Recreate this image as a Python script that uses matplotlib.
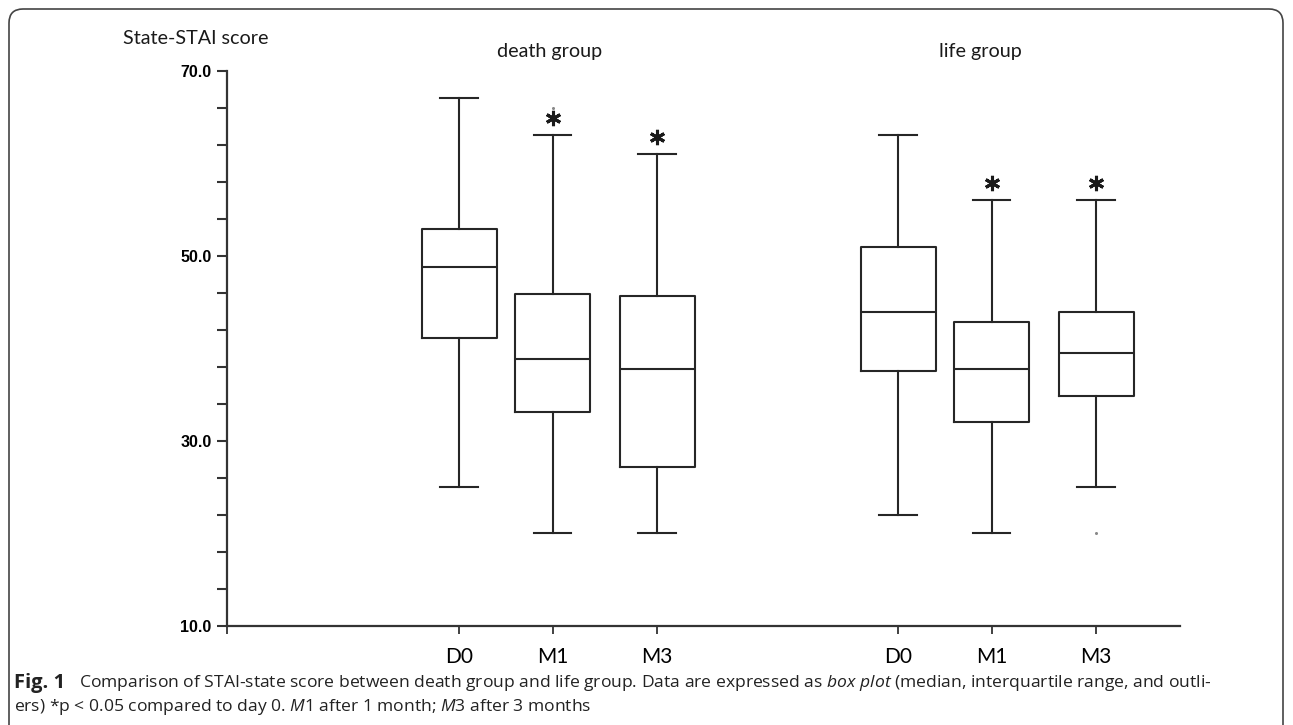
import numpy as np
import matplotlib
matplotlib.use("Agg")
import matplotlib.pyplot as plt
from matplotlib.patches import FancyBboxPatch
from matplotlib.ticker import FixedLocator
from matplotlib.transforms import IdentityTransform, offset_copy, blended_transform_factory

# ---------------- data ----------------
groups = ["death group", "life group"]
timepoints = ["D0", "M1", "M3"]
whisker_low = [25.0, 20.0, 20.0, 22.0, 20.0, 25.0]
q1 = [41.1, 33.1, 27.2, 37.6, 32.0, 34.9]
median = [48.8, 38.8, 37.8, 43.9, 37.8, 39.5]
q3 = [52.9, 45.9, 45.7, 51.0, 42.9, 43.9]
whisker_high = [67.0, 63.0, 61.0, 63.0, 56.0, 56.0]
outliers = [[], [66.0], [], [], [], [20.0]]
significant = [False, True, True, False, True, True]

plt.rcParams['mathtext.fontset'] = 'custom'
plt.rcParams['mathtext.rm'] = 'Open Sans'
plt.rcParams['mathtext.it'] = 'Open Sans:italic'
plt.rcParams['mathtext.bf'] = 'Open Sans:bold'

W, H = 1293, 725
fig = plt.figure(figsize=(W / 100, H / 100), dpi=100)
ax = fig.add_axes([227 / W, 1 - 626 / H, (1180 - 227) / W, (626 - 70.7) / H])

# layout of the boxes along x
group_start = [2.32, 6.71]
step = [0.0, 0.935, 1.98]
positions = [g + s for g in group_start for s in step]

stats = []
for i in range(len(positions)):
    stats.append(dict(whislo=whisker_low[i], q1=q1[i], med=median[i], q3=q3[i],
                      whishi=whisker_high[i], fliers=outliers[i]))

line_kw = dict(color='#262626', linewidth=1.5)
ax.bxp(stats, positions=positions, widths=0.75, showfliers=True,
       boxprops=line_kw, medianprops=line_kw, whiskerprops=line_kw, capprops=line_kw,
       flierprops=dict(marker='o', markersize=2.2, markerfacecolor='#888888',
                       markeredgecolor='none'))

# significance asterisks above the upper whiskers
star_tr = offset_copy(ax.transData, fig=fig, y=17, units='dots')
sig_x = [p for p, s in zip(positions, significant) if s]
sig_y = [h for h, s in zip(whisker_high, significant) if s]
ax.plot(sig_x, sig_y, linestyle='none', marker=(6, 2, 0), markersize=11,
        markeredgewidth=2.2, color='#1a1a1a', transform=star_tr, clip_on=False)

ax.set_xlim(0, 9.53)
ax.set_ylim(10, 70)
for side in ['top', 'right']:
    ax.spines[side].set_visible(False)
for side in ['left', 'bottom']:
    ax.spines[side].set_linewidth(1.6)
    ax.spines[side].set_color('#333333')

ax.yaxis.set_major_locator(FixedLocator([10, 30, 50, 70]))
ax.yaxis.set_minor_locator(FixedLocator(np.arange(10, 71, 4)))
ax.set_yticklabels(['%.1f' % v for v in [10, 30, 50, 70]],
                   fontfamily='Liberation Sans', fontweight='bold', fontsize=11.5)
ax.tick_params(axis='y', which='both', direction='out', length=7, width=1.5,
               color='#333333', pad=4)

ax.set_xticks([0] + positions)
ax.set_xticklabels([''] + timepoints * len(groups), fontfamily='Lato', fontsize=15)
ax.tick_params(axis='x', direction='out', length=6, width=1.3, color='#333333', pad=9)

# group titles
tr = blended_transform_factory(ax.transData, ax.transAxes)
title_x = [3.23, 7.53]
for gx, name in zip(title_x, groups):
    ax.text(gx, 1.034, name, transform=tr, ha='center', va='center',
            fontfamily='Lato', fontsize=14.2, color='#1a1a1a')

fig.text(123 / W, 1 - 38 / H, 'State-STAI score', ha='left', va='center',
         fontfamily='Lato', fontsize=14.2, color='#1a1a1a')

# caption
fig.text(14 / W, 1 - 683 / H, 'Fig. 1', ha='left', va='center', fontfamily='Open Sans',
         fontweight='bold', fontsize=14.5, color='#222222')
cap1 = (r'Comparison of STAI-state score between death group and life group. '
        r'Data are expressed as $\it{box\ plot}$ (median, interquartile range, and outli-')
cap2 = (r'ers) *p < 0.05 compared to day 0. $\it{M1}$ after 1 month; $\it{M3}$ after 3 months')
fig.text(79 / W, 1 - 683 / H, cap1, ha='left', va='center', fontfamily='Open Sans',
         fontsize=12.6, color='#222222')
fig.text(14 / W, 1 - 707 / H, cap2, ha='left', va='center', fontfamily='Open Sans',
         fontsize=12.6, color='#222222')

# rounded frame around the panel
frame = FancyBboxPatch((9, -40), W - 9 - 10, H - 9 + 40, boxstyle='round,pad=0,rounding_size=14',
                       transform=IdentityTransform(), facecolor='none', edgecolor='#444444',
                       linewidth=1.2)
fig.patches.append(frame)

fig.savefig('out.png', dpi=100)
